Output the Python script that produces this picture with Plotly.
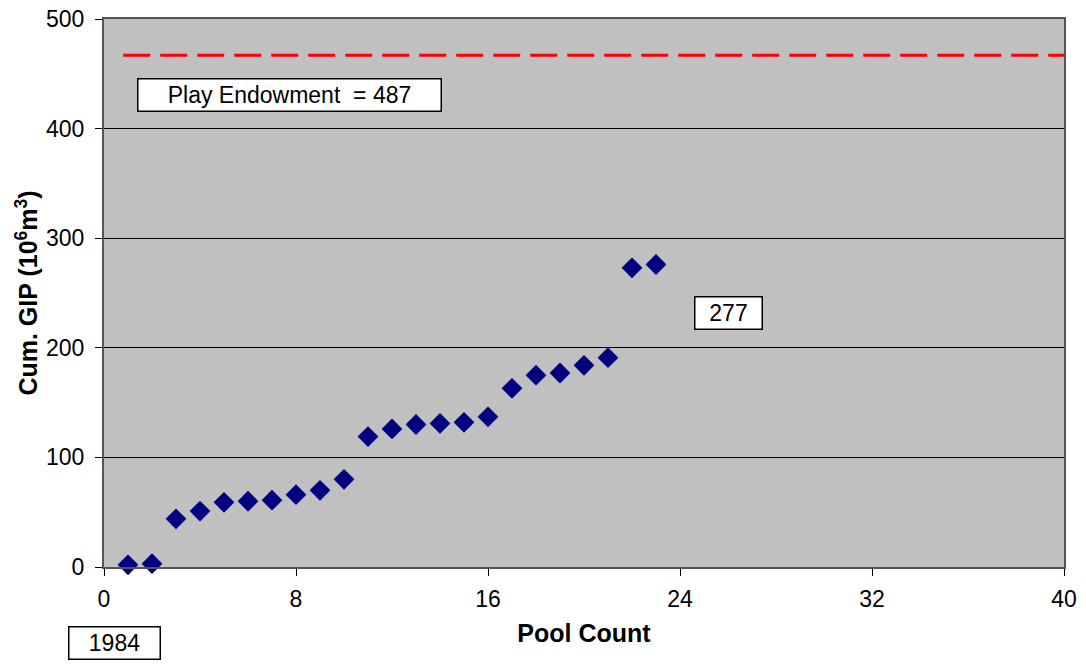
import plotly.graph_objects as go

pool_count = list(range(1, 24))
cum_gip = [2, 3, 44, 51, 59, 60, 61, 66, 70, 80,
           119, 126, 130, 131, 132, 137, 163, 175, 177, 184, 191, 273, 276]
endowment_line = 467
x_ticks = [0, 8, 16, 24, 32, 40]
y_ticks = [0, 100, 200, 300, 400, 500]

FONT = "Liberation Sans, Arial, sans-serif"

fig = go.Figure()
fig.add_trace(go.Scatter(
    x=pool_count, y=cum_gip, mode="markers",
    marker=dict(symbol="diamond", size=16, color="#000080",
                line=dict(width=0)),
    showlegend=False, cliponaxis=False))

fig.add_shape(type="line", xref="x", yref="y", x0=0.8, x1=40,
              y0=endowment_line, y1=endowment_line,
              line=dict(color="#FF0000", width=3, dash="27px,10px"))

fig.add_annotation(xref="paper", yref="paper", x=(137 - 104) / 960, y=(567 - 95.5) / 548,
                   xanchor="left", yanchor="middle",
                   text="Play Endowment  = 487", showarrow=False,
                   font=dict(family=FONT, size=23, color="black"),
                   bgcolor="white", bordercolor="black", borderwidth=1.5,
                   width=300, height=29)
fig.add_annotation(xref="paper", yref="paper", x=(728 - 104) / 960, y=(567 - 312.5) / 548,
                   xanchor="center", yanchor="middle",
                   text="277", showarrow=False,
                   font=dict(family=FONT, size=23, color="black"),
                   bgcolor="white", bordercolor="black", borderwidth=1.5,
                   width=64, height=29)
fig.add_annotation(xref="paper", yref="paper", x=(114 - 104) / 960, y=(567 - 642.5) / 548,
                   xanchor="center", yanchor="middle",
                   text="1984", showarrow=False,
                   font=dict(family=FONT, size=23, color="black"),
                   bgcolor="white", bordercolor="black", borderwidth=1.5,
                   width=88, height=29)

fig.update_layout(
    width=1086, height=665,
    margin=dict(l=104, r=22, t=19, b=98, autoexpand=False),
    paper_bgcolor="white", plot_bgcolor="#C0C0C0",
    font=dict(family=FONT, size=23, color="black"),
    xaxis=dict(range=[0, 40], tickvals=x_ticks, showgrid=False, zeroline=False,
               automargin=False,
               showline=True, linecolor="#555555", linewidth=2, mirror=True,
               ticks="outside", ticklen=7, tickcolor="black",
               tickfont=dict(size=23), ticklabelstandoff=3,
               title=dict(text="<b>Pool Count</b>", font=dict(size=25), standoff=14)),
    yaxis=dict(range=[0, 500], tickvals=y_ticks, showgrid=True, gridcolor="black",
               gridwidth=1, zeroline=False, automargin=False,
               showline=True, linecolor="#555555", linewidth=2, mirror=True,
               ticks="outside", ticklen=7, tickcolor="black",
               tickfont=dict(size=23), ticklabelstandoff=6,
               title=dict(text="<b>Cum. GIP (10<sup>6</sup>m<sup>3</sup>)</b>",
                          font=dict(size=25), standoff=1)),
)

fig.write_html("out.html", config={"displayModeBar": False},
               post_script="document.body.style.margin='0';document.body.style.overflow='hidden';")
